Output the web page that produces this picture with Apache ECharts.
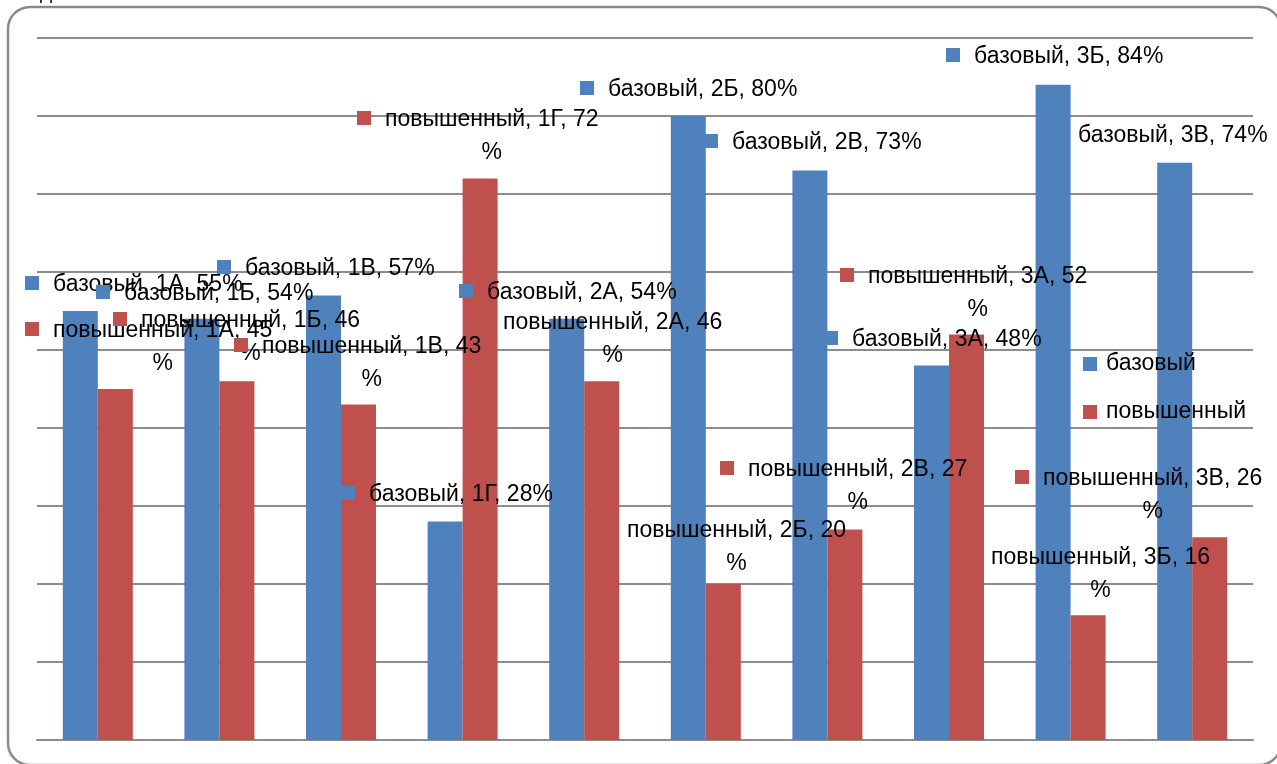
<!DOCTYPE html>
<html>
<head>
<meta charset="utf-8">
<script src="https://cdn.jsdelivr.net/npm/echarts@6/dist/echarts.min.js"></script>
<style>
  html, body { margin: 0; padding: 0; background: #fff; }
  #chart { width: 1277px; height: 764px; }
</style>
</head>
<body>
<div id="chart"></div>
<script>
// классы и доли выполнения (%)
const classes = ['1А', '1Б', '1В', '1Г', '2А', '2Б', '2В', '3А', '3Б', '3В']
const baseVals = [55, 54, 57, 28, 54, 80, 73, 48, 84, 74]
const highVals = [45, 46, 43, 72, 46, 20, 27, 52, 16, 26]
const seriesNames = ['базовый', 'повышенный']
const colors = ['#4F81BD', '#C0504D']

// где стоят подписи (как в исходной диаграмме): x левого края, y центра первой строки
const baseSpots = [
  { x: 25, y: 283, sq: true }, { x: 96, y: 292, sq: true }, { x: 217, y: 267, sq: true },
  { x: 341, y: 493, sq: true }, { x: 459, y: 291, sq: true }, { x: 580, y: 88, sq: true },
  { x: 704, y: 141, sq: true }, { x: 824, y: 338, sq: true }, { x: 946, y: 55, sq: true },
  { x: 1078, y: 134, sq: false }
]
const highSpots = [
  { x: 25, y: 329, sq: true }, { x: 113, y: 319, sq: true }, { x: 234, y: 345, sq: true },
  { x: 357, y: 118, sq: true }, { x: 503, y: 321, sq: false }, { x: 627, y: 529, sq: false },
  { x: 720, y: 468, sq: true }, { x: 840, y: 275, sq: true }, { x: 991, y: 556, sq: false },
  { x: 1015, y: 477, sq: true }
]

const FONT = 'Liberation Sans'
const FS = 23
const LH = 33
const SQ = 14
const GAP = 14

const ctx = document.createElement('canvas').getContext('2d')
ctx.font = FS + 'px "' + FONT + '"'
function tw (s) { return ctx.measureText(s).width }

function makeLabel (name, cls, val, spot, wrap, color) {
  const rich = {
    t: { fontFamily: FONT, fontSize: FS, color: '#000', lineHeight: LH, padding: [4, 0, 0, 0] },
    sq: { width: SQ, height: SQ, backgroundColor: color, lineHeight: LH },
    g: { width: GAP, lineHeight: LH },
    sp: { width: 1, lineHeight: LH }
  }
  const pre = spot.sq ? '{sq| }{g| }' : ''
  let text
  if (wrap) {
    const first = name + ', ' + cls + ', ' + val
    const shift = (spot.sq ? SQ + GAP : 0) + (tw(first) - tw('%')) / 2
    rich.sp = { width: shift, lineHeight: LH }
    text = pre + '{t|' + first + '}\n{sp| }{t|%}'
  } else {
    text = pre + '{t|' + name + ', ' + cls + ', ' + val + '%}'
  }
  return { show: true, formatter: text, rich: rich }
}

function buildData (vals, spots, si) {
  return vals.map((v, i) => ({
    value: v,
    label: makeLabel(seriesNames[si], classes[i], v, spots[i], si === 1, colors[si])
  }))
}

const allSpots = [baseSpots, highSpots]

const chart = echarts.init(document.getElementById('chart'))
const option = {
  animation: false,
  backgroundColor: '#fff',
  textStyle: { fontFamily: FONT },
  grid: { left: 37, right: 24, top: 38, bottom: 24, containLabel: false },
  legend: {
    orient: 'vertical',
    left: 1083,
    top: 351,
    padding: 0,
    itemGap: 22,
    itemWidth: 14,
    itemHeight: 14,
    icon: 'rect',
    textStyle: { fontFamily: FONT, fontSize: FS, color: '#000', lineHeight: 24, padding: [2, 0, 0, 4] },
    data: seriesNames
  },
  xAxis: {
    type: 'category',
    data: classes,
    axisLine: { show: true, lineStyle: { color: '#8c8c8c', width: 2 } },
    axisTick: { show: false },
    axisLabel: { show: false }
  },
  yAxis: {
    type: 'value',
    min: 0,
    max: 90,
    interval: 10,
    axisLine: { show: false },
    axisTick: { show: false },
    axisLabel: { show: false },
    splitLine: { lineStyle: { color: '#8c8c8c', width: 2 } }
  },
  series: [
    {
      name: seriesNames[0],
      type: 'bar',
      barWidth: 35,
      barGap: '0%',
      itemStyle: { color: colors[0] },
      data: buildData(baseVals, baseSpots, 0),
      labelLayout: function (p) {
        const s = allSpots[0][p.dataIndex]
        return { x: s.x, y: s.y - LH / 2, align: 'left', verticalAlign: 'top' }
      }
    },
    {
      name: seriesNames[1],
      type: 'bar',
      barWidth: 35,
      barGap: '0%',
      itemStyle: { color: colors[1] },
      data: buildData(highVals, highSpots, 1),
      labelLayout: function (p) {
        const s = allSpots[1][p.dataIndex]
        return { x: s.x, y: s.y - LH / 2, align: 'left', verticalAlign: 'top' }
      }
    }
  ],
  graphic: [
    {
      type: 'rect',
      shape: { x: 8, y: 7, width: 1273, height: 758, r: 22 },
      style: { fill: 'none', stroke: '#8a8a8a', lineWidth: 2.5 },
      silent: true
    },
    {
      type: 'text',
      left: 40,
      top: -15,
      style: { text: 'Д', font: '18px "' + FONT + '"', fill: '#000' },
      silent: true
    }
  ]
}
chart.setOption(option)
</script>
</body>
</html>
